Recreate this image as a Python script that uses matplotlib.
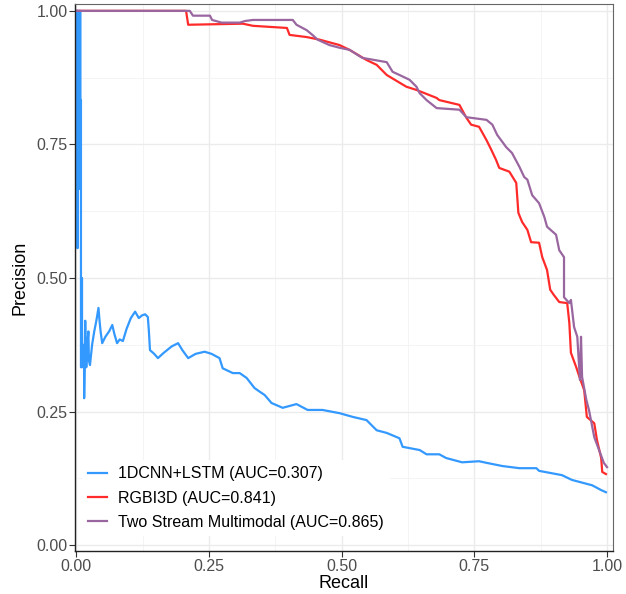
import numpy as np
import matplotlib
matplotlib.use("Agg")
import matplotlib.pyplot as plt
from matplotlib.ticker import MultipleLocator

plt.rcParams['font.family'] = ['Liberation Sans', 'DejaVu Sans']

# 1DCNN+LSTM
cnn_recall = [0.000, 0.002, 0.002, 0.003, 0.003, 0.004, 0.004, 0.006, 0.006, 0.008,
              0.008, 0.009, 0.009, 0.010, 0.010, 0.011, 0.011, 0.013, 0.015, 0.015,
              0.017, 0.019, 0.021, 0.023, 0.024, 0.026, 0.030, 0.034, 0.038, 0.042,
              0.044, 0.046, 0.049, 0.055, 0.062, 0.068, 0.072, 0.077, 0.082, 0.088,
              0.095, 0.103, 0.111, 0.118, 0.124, 0.130, 0.135, 0.137, 0.139, 0.147,
              0.154, 0.165, 0.180, 0.192, 0.200, 0.211, 0.225, 0.242, 0.255, 0.270,
              0.276, 0.295, 0.308, 0.321, 0.336, 0.346, 0.355, 0.368, 0.389, 0.415,
              0.436, 0.464, 0.496, 0.521, 0.547, 0.566, 0.585, 0.609, 0.615, 0.647,
              0.660, 0.684, 0.697, 0.727, 0.759, 0.773, 0.803, 0.835, 0.867, 0.872,
              0.915, 0.934, 0.972, 0.989, 0.998]
cnn_precision = [1.000, 1.000, 0.556, 0.556, 1.000, 1.000, 0.667, 0.667, 1.000, 1.000,
                 0.833, 0.833, 0.333, 0.333, 0.500, 0.500, 0.333, 0.375, 0.357, 0.275,
                 0.420, 0.333, 0.375, 0.400, 0.345, 0.337, 0.375, 0.400, 0.420, 0.444,
                 0.420, 0.400, 0.378, 0.390, 0.400, 0.412, 0.395, 0.378, 0.385, 0.382,
                 0.405, 0.425, 0.437, 0.425, 0.430, 0.432, 0.427, 0.400, 0.365, 0.358,
                 0.350, 0.360, 0.372, 0.378, 0.365, 0.350, 0.358, 0.362, 0.358, 0.350,
                 0.331, 0.322, 0.322, 0.313, 0.294, 0.287, 0.281, 0.266, 0.257, 0.264,
                 0.253, 0.253, 0.247, 0.240, 0.234, 0.215, 0.210, 0.200, 0.184, 0.178,
                 0.170, 0.170, 0.163, 0.155, 0.157, 0.154, 0.148, 0.144, 0.144, 0.139,
                 0.131, 0.122, 0.112, 0.103, 0.099]

# RGBI3D
rgb_recall = [0.000, 0.207, 0.211, 0.314, 0.333, 0.397, 0.402, 0.434, 0.459, 0.496,
              0.515, 0.547, 0.566, 0.585, 0.622, 0.641, 0.679, 0.684, 0.722, 0.735,
              0.744, 0.759, 0.773, 0.782, 0.791, 0.797, 0.816, 0.829, 0.833, 0.840,
              0.850, 0.857, 0.872, 0.878, 0.887, 0.893, 0.900, 0.910, 0.925, 0.929,
              0.932, 0.942, 0.947, 0.957, 0.962, 0.976, 0.981, 0.989, 0.991, 0.998]
rgb_precision = [1.000, 1.000, 0.974, 0.976, 0.972, 0.968, 0.955, 0.951, 0.946, 0.936,
                 0.927, 0.908, 0.899, 0.880, 0.858, 0.852, 0.837, 0.833, 0.824, 0.800,
                 0.787, 0.783, 0.758, 0.740, 0.721, 0.706, 0.699, 0.678, 0.622, 0.605,
                 0.590, 0.567, 0.566, 0.539, 0.515, 0.478, 0.468, 0.455, 0.453, 0.416,
                 0.360, 0.333, 0.318, 0.290, 0.240, 0.228, 0.197, 0.163, 0.137, 0.133]

# Two Stream Multimodal
ts_recall = [0.000, 0.214, 0.220, 0.252, 0.256, 0.274, 0.308, 0.318, 0.333, 0.408,
             0.415, 0.434, 0.445, 0.455, 0.477, 0.496, 0.515, 0.539, 0.585, 0.596,
             0.609, 0.628, 0.641, 0.647, 0.660, 0.679, 0.722, 0.735, 0.773, 0.784,
             0.793, 0.810, 0.821, 0.835, 0.844, 0.850, 0.859, 0.872, 0.882, 0.887,
             0.904, 0.910, 0.919, 0.919, 0.929, 0.932, 0.938, 0.944, 0.949, 0.951,
             0.953, 0.961, 0.966, 0.976, 0.985, 0.994, 1.000]
ts_precision = [1.000, 1.000, 0.991, 0.991, 0.983, 0.978, 0.978, 0.981, 0.983, 0.983,
                0.974, 0.964, 0.955, 0.946, 0.936, 0.931, 0.927, 0.912, 0.904, 0.886,
                0.880, 0.871, 0.858, 0.846, 0.833, 0.818, 0.815, 0.801, 0.796, 0.787,
                0.768, 0.745, 0.734, 0.708, 0.689, 0.684, 0.655, 0.640, 0.614, 0.596,
                0.581, 0.552, 0.539, 0.464, 0.453, 0.459, 0.408, 0.390, 0.309, 0.390,
                0.315, 0.272, 0.253, 0.202, 0.178, 0.154, 0.146]

labels = ["1DCNN+LSTM (AUC=0.307)", "RGBI3D (AUC=0.841)",
          "Two Stream Multimodal (AUC=0.865)"]
colors = ["#3399FF", "#FF2A2A", "#9A66A0"]

fig = plt.figure(figsize=(6.26, 5.94), dpi=100)
ax = fig.add_axes([0.12, 0.0724, 0.859, 0.921])

ax.plot(cnn_recall, cnn_precision, color=colors[0], lw=1.6, label=labels[0])
ax.plot(rgb_recall, rgb_precision, color=colors[1], lw=1.6, label=labels[1])
ax.plot(ts_recall, ts_precision, color=colors[2], lw=1.6, label=labels[2])

ax.set_xlim(-0.002, 1.011)
ax.set_ylim(-0.011, 1.013)
ax.xaxis.set_major_locator(MultipleLocator(0.25))
ax.yaxis.set_major_locator(MultipleLocator(0.25))
ax.xaxis.set_minor_locator(MultipleLocator(0.125))
ax.yaxis.set_minor_locator(MultipleLocator(0.125))
ax.xaxis.set_major_formatter(lambda v, p: f"{v:.2f}")
ax.yaxis.set_major_formatter(lambda v, p: f"{v:.2f}")

ax.grid(which="major", color="#EBEBEB", lw=1.0)
ax.grid(which="minor", color="#F3F3F3", lw=0.6)
ax.set_axisbelow(True)
ax.tick_params(which="minor", length=0)
ax.tick_params(which="major", length=4, width=0.8, color="#333333", pad=1.5,
               labelsize=11.5, labelcolor="#4D4D4D")

for side in ["top", "right"]:
    ax.spines[side].set_color("#666666")
    ax.spines[side].set_linewidth(0.8)
for side in ["left", "bottom"]:
    ax.spines[side].set_color("#222222")
    ax.spines[side].set_linewidth(1.0)

ax.set_xlabel("Recall", fontsize=13, labelpad=1)
ax.set_ylabel("Precision", fontsize=13, labelpad=6)

leg = ax.legend(loc="lower left", bbox_to_anchor=(0.012, 0.027), borderaxespad=0,
                frameon=True, fontsize=11.5, handlelength=1.2, handletextpad=0.7,
                borderpad=0.4, labelspacing=0.58)
leg.get_frame().set_facecolor("white")
leg.get_frame().set_edgecolor("none")
leg.get_frame().set_alpha(1.0)

fig.savefig("out.png", dpi=100)
